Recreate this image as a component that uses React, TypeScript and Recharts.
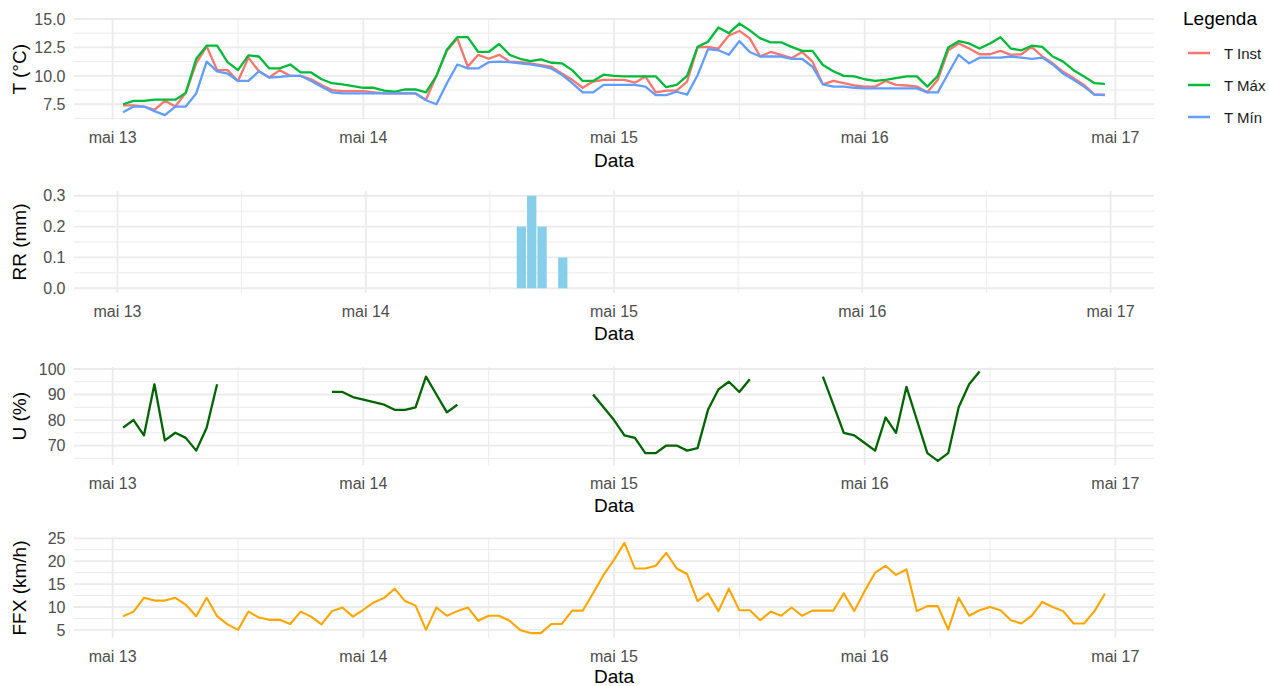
import React from 'react';
import { ComposedChart, Line, Bar, XAxis, YAxis, CartesianGrid, Legend } from 'recharts';

// ---------- data (hourly, hour 0 = mai 13 00:00) ----------
const hours = Array.from({ length: 95 }, (_, i) => i + 1);
const dayTicks = [0, 24, 48, 72, 96];
const dayLabels = ['mai 13', 'mai 14', 'mai 15', 'mai 16', 'mai 17'];
const halfDayTicks = [12, 36, 60, 84];

const tInst = [
  7.4, 7.4, 7.3, 7.0, 7.8, 7.3, 8.5, 11.1, 12.6, 10.5, 10.5, 9.55, 11.6, 10.4, 9.85, 10.5, 10.0, 10.0, 9.7, 9.2, 8.75, 8.65, 8.65, 8.65,
  8.55, 8.45, 8.45, 8.45, 8.45, 7.9, 10.0, 12.2, 13.3, 10.8, 11.85, 11.5, 11.85, 11.25, 11.2, 11.1, 10.95, 10.8, 10.2, 9.65, 8.95, 9.5, 9.65, 9.65,
  9.65, 9.4, 9.95, 8.55, 8.7, 8.7, 9.5, 12.5, 12.55, 12.4, 13.55, 13.95, 13.3, 11.7, 12.1, 11.85, 11.55, 12.1, 11.25, 9.25, 9.55, 9.35, 9.15, 9.05,
  9.05, 9.55, 9.2, 9.15, 9.05, 8.55, 9.65, 12.25, 12.85, 12.4, 11.9, 11.9, 12.2, 11.85, 11.9, 12.55, 11.7, 11.1, 10.35, 9.8, 9.2, 8.35, 8.35,
];
const tMax = [
  7.5, 7.8, 7.8, 7.9, 7.9, 7.9, 8.5, 11.5, 12.65, 12.65, 11.2, 10.5, 11.8, 11.7, 10.65, 10.65, 11.0, 10.3, 10.3, 9.7, 9.35, 9.25, 9.1, 8.95,
  8.95, 8.7, 8.6, 8.8, 8.8, 8.55, 10.0, 12.3, 13.4, 13.4, 12.1, 12.1, 12.8, 11.85, 11.5, 11.3, 11.45, 11.15, 11.1, 10.5, 9.55, 9.55, 10.1, 10.0,
  9.95, 9.95, 9.95, 9.95, 9.0, 9.2, 10.0, 12.55, 13.0, 14.25, 13.75, 14.6, 14.0, 13.3, 12.95, 12.95, 12.55, 12.2, 12.2, 10.95, 10.4, 10.0, 9.95, 9.7,
  9.55, 9.65, 9.8, 9.95, 9.95, 9.05, 10.0, 12.5, 13.05, 12.85, 12.4, 12.85, 13.4, 12.4, 12.25, 12.65, 12.55, 11.7, 11.25, 10.5, 9.95, 9.35, 9.3,
];
const tMin = [
  6.8, 7.3, 7.3, 6.9, 6.55, 7.3, 7.3, 8.45, 11.25, 10.4, 10.2, 9.55, 9.55, 10.4, 9.85, 9.9, 10.0, 10.0, 9.55, 9.05, 8.55, 8.45, 8.45, 8.45,
  8.45, 8.45, 8.45, 8.45, 8.45, 7.85, 7.5, 9.35, 11.0, 10.65, 10.65, 11.2, 11.25, 11.2, 11.1, 11.0, 10.85, 10.65, 10.1, 9.35, 8.55, 8.55, 9.2, 9.2,
  9.2, 9.2, 9.05, 8.3, 8.3, 8.6, 8.35, 10.05, 12.35, 12.25, 11.85, 13.05, 12.1, 11.7, 11.7, 11.7, 11.5, 11.5, 10.8, 9.25, 9.05, 9.05, 8.95, 8.9,
  8.9, 8.9, 8.9, 8.9, 8.9, 8.55, 8.55, 10.2, 11.85, 11.1, 11.6, 11.6, 11.6, 11.7, 11.6, 11.5, 11.6, 11.0, 10.2, 9.65, 9.05, 8.35, 8.3,
];
const rrHours = [39, 40, 41, 43];
const rrValues = [0.2, 0.3, 0.2, 0.1];
const umid: (number | null)[] = [
  77, 80, 74, 94, 72, 75, 73, 68, 77, 94, null, null, null, null, null, null, null, null, null, null, 91, 91, 89, 88,
  87, 86, 84, 84, 85, 97, 90, 83, 86, null, null, null, null, null, null, null, null, null, null, null, null, 90, 85, 80,
  74, 73, 67, 67, 70, 70, 68, 69, 84, 92, 95, 91, 96, null, null, null, null, null, null, 97, 86, 75, 74, 71,
  68, 81, 75, 93, 80, 67, 64, 67, 85, 94, 99, null, null, null, null, null, null, null, null, null, null, null, null,
];
const ffx = [
  8, 9, 12, 11.4, 11.4, 12, 10.5, 8, 12, 8, 6.2, 5, 9, 7.7, 7.2, 7.2, 6.3, 9, 7.9, 6.2, 9.1, 9.9, 7.9, 9.4,
  11, 12, 14, 11.3, 10.3, 5, 9.9, 8.1, 9.1, 9.9, 7, 8.1, 8.1, 7, 5, 4.3, 4.3, 6.3, 6.3, 9.2, 9.2, 13, 17, 20.3,
  24, 18.4, 18.4, 19, 21.8, 18.4, 17.2, 11.3, 13, 9.1, 14, 9.3, 9.3, 7.1, 9, 8.1, 9.9, 8.1, 9.2, 9.2, 9.2, 13, 9.1, 13.5,
  17.5, 19, 17, 18.2, 9.1, 10.2, 10.2, 5.1, 12, 8.1, 9.3, 10, 9.3, 7.1, 6.4, 8.1, 11.1, 10, 9.1, 6.4, 6.4, 9.1, 12.9,
];

const tempData = hours.map((h, i) => ({ h, tInst: tInst[i], tMax: tMax[i], tMin: tMin[i] }));
const rrData = rrHours.map((h, i) => ({ h, rr: rrValues[i] }));
const umidData = hours.map((h, i) => ({ h, u: umid[i] }));
const ffxData = hours.map((h, i) => ({ h, ffx: ffx[i] }));

// ---------- layout ----------
const FONT = '"Liberation Sans", Arial, Helvetica, sans-serif';
const W = 1268;
const CH = 172;
const PLOT_LEFT = 74;
const PLOT_RIGHT = 1154;
const XAXIS_H = 30;
const GRID = '#EBEBEB';
const AXIS_TEXT = '#4D4D4D';

const panels = [
  { divTop: 0, plotTop: 19, plotBottom: 119.6, ytitle: 'T (°C)', dataOff: 40.5 },
  { divTop: 172, plotTop: 191.1, plotBottom: 292.9, ytitle: 'RR (mm)', dataOff: 40.5 },
  { divTop: 344, plotTop: 367.1, plotBottom: 465.3, ytitle: 'U (%)', dataOff: 40.5 },
  { divTop: 514, plotTop: 538.3, plotBottom: 637.7, ytitle: 'FFX (km/h)', dataOff: 38.5 },
];

const marginOf = (p: { divTop: number; plotTop: number; plotBottom: number }) => ({
  top: p.plotTop - p.divTop,
  bottom: CH - (p.plotBottom - p.divTop) - XAXIS_H,
  left: 0,
  right: W - PLOT_RIGHT,
});

const xAxis = (domain: number[]) => (
  <XAxis
    type="number"
    dataKey="h"
    domain={domain}
    allowDataOverflow
    ticks={dayTicks}
    interval={0}
    tickFormatter={(v: number) => dayLabels[Math.round(v / 24)]}
    axisLine={false}
    tickLine={false}
    tickSize={0}
    tickMargin={12.5}
    height={XAXIS_H}
    tick={{ fill: AXIS_TEXT, fontSize: 16, fontFamily: FONT }}
  />
);

const yAxis = (domain: number[], ticks: number[], digits: number) => (
  <YAxis
    type="number"
    domain={domain}
    allowDataOverflow
    ticks={ticks}
    interval={0}
    tickFormatter={(v: number) => v.toFixed(digits)}
    axisLine={false}
    tickLine={false}
    tickSize={0}
    tickMargin={8.5}
    width={PLOT_LEFT}
    tick={{ fill: AXIS_TEXT, fontSize: 16, fontFamily: FONT }}
  />
);

const grids = (yMajor: number[], yMinor: number[]) => [
  <CartesianGrid key="gmin" verticalValues={halfDayTicks} horizontalValues={yMinor} stroke={GRID} strokeWidth={1} />,
  <CartesianGrid key="gmaj" verticalValues={dayTicks} horizontalValues={yMajor} stroke={GRID} strokeWidth={1.8} />,
];

const renderLegend = (props: any) => {
  const payload = props.payload || [];
  return (
    <div style={{ position: 'relative', width: 90, height: 130, fontFamily: FONT, color: '#000' }}>
      <div style={{ position: 'absolute', left: 0, top: 0, fontSize: 19, lineHeight: '22px', whiteSpace: 'nowrap' }}>Legenda</div>
      {payload.map((e: any, i: number) => (
        <div
          key={e.value}
          style={{ position: 'absolute', left: 5, top: 35 + i * 32, height: 20, display: 'flex', alignItems: 'center', whiteSpace: 'nowrap' }}
        >
          <svg width={22} height={20} style={{ display: 'block' }}>
            <line x1={0} x2={22} y1={10} y2={10} stroke={e.color} strokeWidth={2.5} />
          </svg>
          <span style={{ marginLeft: 14, fontSize: 15, color: '#1A1A1A' }}>{e.value}</span>
        </div>
      ))}
    </div>
  );
};

const abs = (top: number): React.CSSProperties => ({ position: 'absolute', left: 0, top, width: W, height: CH });

export default function App() {
  const [p1, p2, p3, p4] = panels;
  return (
    <div style={{ position: 'relative', width: W, height: 686, background: '#fff', fontFamily: FONT, overflow: 'hidden' }}>
      <style>{'body{margin:0;background:#fff;}'}</style>

      <div style={abs(p1.divTop)}>
        <ComposedChart width={W} height={CH} data={tempData} margin={marginOf(p1)}>
          {grids([7.5, 10, 12.5, 15], [6.25, 8.75, 11.25, 13.75])}
          {xAxis([-3.7, 99.7])}
          {yAxis([6.15, 15.0], [7.5, 10, 12.5, 15], 1)}
          <Line type="linear" dataKey="tInst" name="T Inst" stroke="#F8766D" strokeWidth={2.3} dot={false} strokeLinejoin="round" isAnimationActive={false} />
          <Line type="linear" dataKey="tMax" name="T Máx" stroke="#00BA38" strokeWidth={2.3} dot={false} strokeLinejoin="round" isAnimationActive={false} />
          <Line type="linear" dataKey="tMin" name="T Mín" stroke="#619CFF" strokeWidth={2.3} dot={false} strokeLinejoin="round" isAnimationActive={false} />
          <Legend
            layout="vertical"
            align="center"
            verticalAlign="middle"
            content={renderLegend}
            wrapperStyle={{ left: 1183, top: 8, width: 85, height: 130 }}
          />
        </ComposedChart>
      </div>

      <div style={abs(p2.divTop)}>
        <ComposedChart width={W} height={CH} data={rrData} margin={marginOf(p2)}>
          {grids([0, 0.1, 0.2, 0.3], [0.05, 0.15, 0.25])}
          {xAxis([-4.2, 100.2])}
          {yAxis([-0.015, 0.315], [0, 0.1, 0.2, 0.3], 1)}
          <Bar dataKey="rr" fill="#87CEEB" barSize={9.3} isAnimationActive={false} />
        </ComposedChart>
      </div>

      <div style={abs(p3.divTop)}>
        <ComposedChart width={W} height={CH} data={umidData} margin={marginOf(p3)}>
          {grids([70, 80, 90, 100], [65, 75, 85, 95])}
          {xAxis([-3.7, 99.7])}
          {yAxis([62.25, 100.75], [70, 80, 90, 100], 0)}
          <Line type="linear" dataKey="u" stroke="#006400" strokeWidth={2.3} dot={false} connectNulls={false} strokeLinejoin="round" isAnimationActive={false} />
        </ComposedChart>
      </div>

      <div style={abs(p4.divTop)}>
        <ComposedChart width={W} height={CH} data={ffxData} margin={marginOf(p4)}>
          {grids([5, 10, 15, 20, 25], [7.5, 12.5, 17.5, 22.5])}
          {xAxis([-3.7, 99.7])}
          {yAxis([3.3, 25.0], [5, 10, 15, 20, 25], 0)}
          <Line type="linear" dataKey="ffx" stroke="#FFA500" strokeWidth={2.1} dot={false} strokeLinejoin="round" isAnimationActive={false} />
        </ComposedChart>
      </div>

      <svg width={W} height={686} style={{ position: 'absolute', left: 0, top: 0, pointerEvents: 'none' }}>
        {panels.map((p) => (
          <g key={p.ytitle}>
            <text
              x={(PLOT_LEFT + PLOT_RIGHT) / 2}
              y={p.plotBottom + p.dataOff}
              textAnchor="middle"
              dominantBaseline="central"
              fontSize={19}
              fontFamily={FONT}
              fill="#000"
            >
              Data
            </text>
            <text
              transform={`translate(19, ${(p.plotTop + p.plotBottom) / 2}) rotate(-90)`}
              textAnchor="middle"
              dominantBaseline="central"
              fontSize={19}
              fontFamily={FONT}
              fill="#000"
            >
              {p.ytitle}
            </text>
          </g>
        ))}
      </svg>
    </div>
  );
}
